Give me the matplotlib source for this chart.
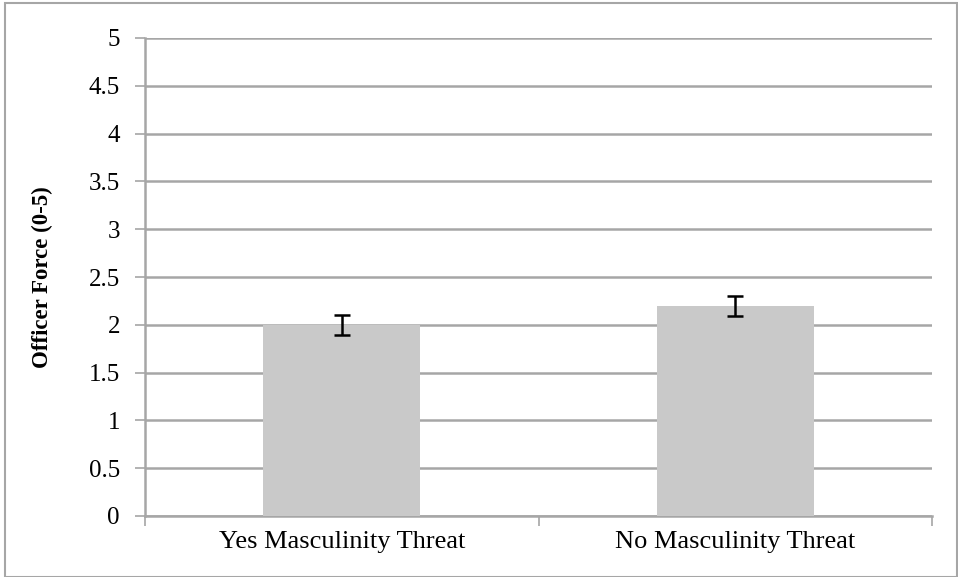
import matplotlib
matplotlib.use("Agg")
import matplotlib.pyplot as plt
from matplotlib.patches import Rectangle
import numpy as np

# data
categories = ["Yes Masculinity Threat", "No Masculinity Threat"]
means = [2.0, 2.2]
errors = [0.105, 0.105]
y_ticks = [0, 0.5, 1, 1.5, 2, 2.5, 3, 3.5, 4, 4.5, 5]
y_tick_labels = ["0", "0.5", "1", "1.5", "2", "2.5", "3", "3.5", "4", "4.5", "5"]

plt.rcParams['font.family'] = ['Liberation Serif', 'DejaVu Serif']

fig = plt.figure(figsize=(9.58, 5.77), dpi=100)
# outer chart frame
fig.patches.append(Rectangle((5 / 958, 0), 952 / 958, 574 / 577, transform=fig.transFigure,
                             fill=False, edgecolor='#a6a6a6', linewidth=1.5))
ax = fig.add_axes([145 / 958, 61 / 577, 787 / 958, 478 / 577])

x = np.arange(len(categories))
ax.bar(x, means, width=0.4, color='#c9c9c9', zorder=3)
ax.errorbar(x, means, yerr=errors, fmt='none', ecolor='black', elinewidth=1.8,
            capsize=6, capthick=1.8, zorder=4)

ax.set_xlim(-0.5, 1.5)
ax.set_ylim(0, 5)
ax.set_yticks(y_ticks)
ax.set_yticklabels(y_tick_labels, fontsize=18)
ax.set_xticks([-0.5, 0.5, 1.5], minor=False)
ax.set_xticklabels([])
ax.set_xticks(x, minor=True)
ax.set_xticklabels(categories, minor=True, fontsize=19)
ax.tick_params(axis='x', which='minor', length=0, pad=11)
ax.tick_params(axis='x', which='major', length=7, color='#a6a6a6', width=1.2, direction='out')
ax.tick_params(axis='y', length=7, color='#a6a6a6', width=1.2, direction='out', pad=11)

ax.yaxis.grid(True, color='#a6a6a6', linewidth=1.8, zorder=0)
ax.set_axisbelow(True)
for side in ['top', 'right']:
    ax.spines[side].set_visible(False)
for side in ['left', 'bottom']:
    ax.spines[side].set_color('#a6a6a6')
    ax.spines[side].set_linewidth(1.8)

ax.set_ylabel("Officer Force (0-5)", fontsize=16.5, fontweight='bold', labelpad=26)

fig.savefig("out.png", dpi=100)
